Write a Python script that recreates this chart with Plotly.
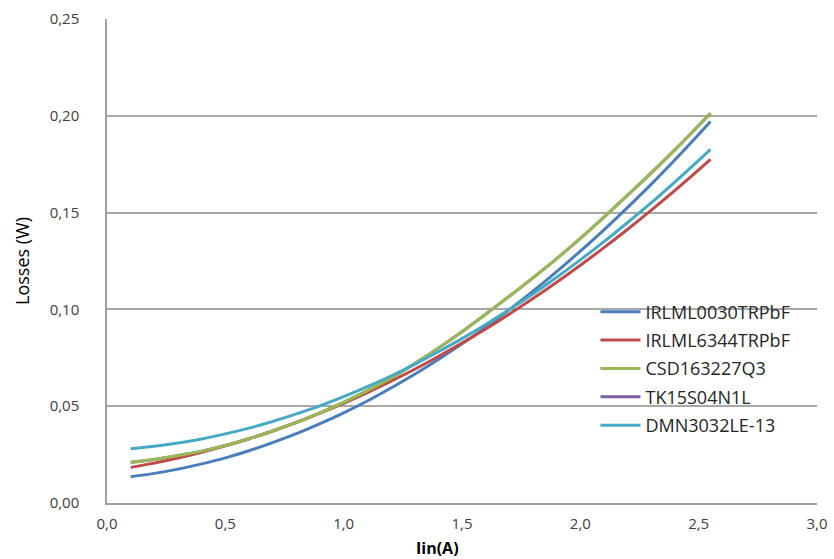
import plotly.graph_objects as go

current = [0.1, 0.2, 0.3, 0.4, 0.5, 0.6, 0.7, 0.8, 0.9, 1.0, 1.1, 1.2, 1.3,
           1.4, 1.5, 1.6, 1.7, 1.8, 1.9, 2.0, 2.1, 2.2, 2.3, 2.4, 2.5, 2.55]

irlml0030 = [0.0136, 0.0153, 0.0175, 0.0202, 0.0233, 0.0270, 0.0312, 0.0358, 0.0410,
             0.0466, 0.0527, 0.0594, 0.0665, 0.0741, 0.0822, 0.0908, 0.0999, 0.1094,
             0.1195, 0.1301, 0.1411, 0.1527, 0.1647, 0.1773, 0.1903, 0.1970]
irlml6344 = [0.0184, 0.0206, 0.0232, 0.0262, 0.0295, 0.0332, 0.0372, 0.0416, 0.0464,
             0.0515, 0.0570, 0.0629, 0.0691, 0.0757, 0.0826, 0.0899, 0.0976, 0.1056,
             0.1140, 0.1228, 0.1319, 0.1414, 0.1513, 0.1615, 0.1721, 0.1775]
csd163227 = [0.0210, 0.0225, 0.0245, 0.0268, 0.0297, 0.0332, 0.0372, 0.0416, 0.0466,
             0.0520, 0.0580, 0.0645, 0.0720, 0.0800, 0.0885, 0.0975, 0.1068, 0.1163,
             0.1262, 0.1367, 0.1477, 0.1590, 0.1705, 0.1825, 0.1950, 0.2013]
# TK15S04N1L is hidden beneath the CSD163227Q3 curve in the picture
tk15s04 = [0.0210, 0.0225, 0.0245, 0.0268, 0.0297, 0.0332, 0.0372, 0.0416, 0.0466,
           0.0520, 0.0580, 0.0645, 0.0720, 0.0800, 0.0885, 0.0975, 0.1068, 0.1163,
           0.1262, 0.1367, 0.1477, 0.1590, 0.1705, 0.1825, 0.1950, 0.2013]
dmn3032 = [0.0280, 0.0293, 0.0310, 0.0331, 0.0357, 0.0387, 0.0421, 0.0460, 0.0502,
           0.0549, 0.0601, 0.0656, 0.0716, 0.0781, 0.0849, 0.0922, 0.0999, 0.1080,
           0.1166, 0.1256, 0.1350, 0.1449, 0.1551, 0.1659, 0.1770, 0.1827]

names = ["IRLML0030TRPbF", "IRLML6344TRPbF", "CSD163227Q3", "TK15S04N1L", "DMN3032LE-13"]
series = [irlml0030, irlml6344, csd163227, tk15s04, dmn3032]
colors = ["#4A7EBB", "#BE4B48", "#98B954", "#7D60A0", "#46AAC5"]
draw_order = [3, 0, 1, 2, 4]  # purple first so green covers it

x_ticks = [0.0, 0.5, 1.0, 1.5, 2.0, 2.5, 3.0]
y_ticks = [0.00, 0.05, 0.10, 0.15, 0.20, 0.25]

FONT = "Open Sans"
fig = go.Figure()
for i in draw_order:
    fig.add_trace(go.Scatter(
        x=current[:len(series[i])], y=series[i], name=names[i], mode="lines",
        legendgroup=names[i], legendrank=i + 1,
        line=dict(color=colors[i], width=3, shape="spline"),
    ))

fig.update_layout(
    width=834, height=559,
    margin=dict(l=107, r=17, t=19, b=56, autoexpand=False),
    paper_bgcolor="white", plot_bgcolor="white",
    separators=", ",
    font=dict(family=FONT, size=15, color="#404040"),
    showlegend=True,
    legend=dict(x=0.688, y=0.433, xanchor="left", yanchor="top",
                bgcolor="rgba(0,0,0,0)", font=dict(size=18, color="#262626"),
                tracegroupgap=2, itemwidth=40),
    xaxis=dict(range=[0, 3], tickvals=x_ticks, tickformat=".1f",
               showgrid=False, zeroline=False, showline=True,
               linecolor="#A0A0A0", linewidth=1.5, ticks="",
               ticklabelstandoff=6, automargin=False, ticklabeloverflow="allow",
               fixedrange=True),
    yaxis=dict(range=[0, 0.25], tickvals=y_ticks, tickformat=".2f",
               showgrid=True, gridcolor="#A8A8A8", gridwidth=1.5,
               zeroline=False, showline=True, linecolor="#A0A0A0", linewidth=1.5,
               ticks="", ticklabelstandoff=23, automargin=False,
               ticklabeloverflow="allow", fixedrange=True),
    annotations=[
        dict(text="Losses (W)", xref="paper", yref="paper", x=0, y=0.5,
             xanchor="center", yanchor="middle", textangle=-90, showarrow=False,
             xshift=-85, font=dict(size=18, color="#000000", family=FONT)),
        dict(text="<b>Iin(A)</b>", xref="paper", yref="paper", x=0.465, y=0,
             xanchor="center", yanchor="middle", showarrow=False, yshift=-45,
             font=dict(size=16, color="#000000", family=FONT)),
    ],
)

fig.write_html(
    "out.html",
    config={"displayModeBar": False},
    post_script="document.body.style.margin='0';document.body.style.overflow='hidden';",
)
